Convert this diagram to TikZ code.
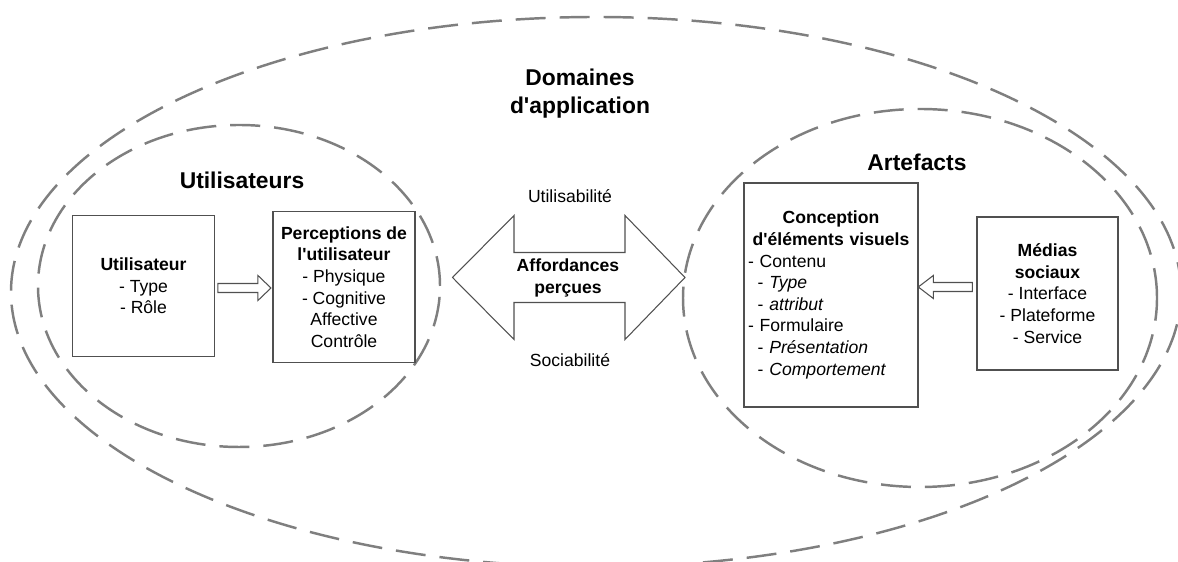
\documentclass[tikz,border=0pt]{standalone}
\usepackage{fontspec}
\setmainfont{Liberation Sans}[Ligatures=TeXOff]
\usetikzlibrary{calc}

\definecolor{dashgray}{HTML}{7F7F7F}
\definecolor{boxgray}{HTML}{505050}

\tikzset{
	zone/.style={draw=dashgray, line width=1.4pt, dash pattern=on 0.6cm off 0.28cm},
	boite/.style={draw=boxgray, line width=0.8pt, align=center, inner sep=0.08cm, font=\fontsize{10}{12.3}\selectfont},
	fleche/.style={draw=boxgray, line width=0.6pt, fill=white},
	titre/.style={font=\bfseries\fontsize{13}{16}\selectfont, align=center},
	etiquette/.style={font=\fontsize{10}{12.3}\selectfont, align=center}
}

\begin{document}
\begin{tikzpicture}
	\useasboundingbox (0,0) rectangle (23.56,11.24);

	% zones
	\draw[zone] (11.92,5.40) ellipse [x radius=11.70, y radius=5.50];
	\draw[zone] (4.78,5.52) ellipse [x radius=4.02, y radius=3.22];
	\draw[zone] (18.4,5.28) ellipse [x radius=4.74, y radius=3.78];

	\node[titre] (domaines) at (11.6,9.36) {Domaines\\d'application};
	\node[titre] (utilisateurs) at (4.84,7.64) {Utilisateurs};
	\node[titre] (artefacts) at (18.34,8.0) {Artefacts};

	% boites
	\node[boite, minimum width=2.83cm, minimum height=2.83cm] (utilisateur) at (2.87,5.52)
		{\textbf{Utilisateur}\\- Type\\- Rôle};
	\node[boite, minimum width=2.84cm, minimum height=3.02cm] (perceptions) at (6.88,5.50)
		{\textbf{Perceptions de}\\\textbf{l'utilisateur}\\- Physique\\- Cognitive\\Affective\\Contrôle};
	\node[boite, align=left, text width=3.32cm, minimum width=3.48cm, minimum height=4.48cm] (conception) at (16.62,5.34)
		{{\centering\textbf{Conception}\\\textbf{d'éléments visuels}\par}
		- Contenu\\
		\hspace*{5.5pt}- \textit{Type}\\
		\hspace*{5.5pt}- \textit{attribut}\\
		- Formulaire\\
		\hspace*{5.5pt}- \textit{Présentation}\\
		\hspace*{5.5pt}- \textit{Comportement}};
	\node[boite, minimum width=2.82cm, minimum height=3.06cm] (medias) at (20.95,5.37)
		{\textbf{Médias}\\\textbf{sociaux}\\- Interface\\- Plateforme\\- Service};

	% fleches
	\draw[fleche] ($(utilisateur.east)+(0.06,0.05)$) -- ++(0.8,0) -- ++(0,0.16) -- ++(0.26,-0.25)
		-- ++(-0.26,-0.25) -- ++(0,0.16) -- ++(-0.8,0) -- cycle;
	\draw[fleche] ($(medias.west)+(-0.08,0.22)$) -- ++(-0.78,0) -- ++(0,0.14) -- ++(-0.3,-0.23)
		-- ++(0.3,-0.23) -- ++(0,0.14) -- ++(0.78,0) -- cycle;

	\draw[fleche] (9.05,5.69) -- (10.28,6.93) -- (10.28,6.19) -- (12.5,6.19) -- (12.5,6.93) -- (13.70,5.69)
		-- (12.5,4.45) -- (12.5,5.19) -- (10.28,5.19) -- (10.28,4.45) -- cycle;
	\node[etiquette, font=\bfseries\fontsize{10}{12.3}\selectfont] (affordances) at (11.36,5.68) {Affordances\\perçues};
	\node[etiquette] (utilisabilite) at (11.4,7.32) {Utilisabilité};
	\node[etiquette] (sociabilite) at (11.4,4.04) {Sociabilité};
\end{tikzpicture}
\end{document}
